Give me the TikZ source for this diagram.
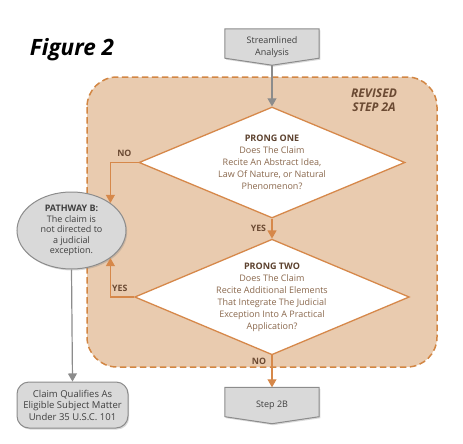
\documentclass[tikz,border=0pt]{standalone}
\usepackage{fontspec}
\setmainfont{Open Sans}
\usetikzlibrary{arrows, calc, shapes.geometric, shadows}
\pgfdeclarelayer{background}
\pgfsetlayers{background,main}
\definecolor{regionfill}{HTML}{E9CBAF}
\definecolor{regionline}{HTML}{D28643}
\definecolor{prongline}{HTML}{D6884A}
\definecolor{headbrown}{HTML}{5C412E}
\definecolor{bodybrown}{HTML}{8A684D}
\definecolor{labelbrown}{HTML}{6B4A33}
\definecolor{boxfill}{HTML}{D9D9D9}
\definecolor{boxline}{HTML}{8C8C8C}
\definecolor{boxtext}{HTML}{3F3F3F}

\begin{document}
\begin{tikzpicture}[x = 1pt, y = -1pt]
\tikzstyle{ProngStyle}=[
shape = diamond,
aspect = 2.375,
minimum width = 266pt,
minimum height = 111pt,
inner sep = 0pt,
draw = prongline,
line width = 1.3pt,
fill = white,
align = center,
text = bodybrown,
font = \fontsize{9}{12}\selectfont]
\tikzstyle{GrayStyle}=[
draw = boxline,
line width = 1pt,
fill = boxfill,
text = boxtext,
align = center,
inner sep = 1pt,
drop shadow = {opacity = 0.3, shadow xshift = 1.2pt, shadow yshift = -1.5pt}]
\tikzstyle{SignStyle}=[
shape = rectangle,
minimum width = 94pt,
minimum height = 36pt,
inner sep = 0pt,
align = center,
text = boxtext,
font = \fontsize{9}{12}\selectfont]
\tikzstyle{LabelStyle}=[
text = labelbrown,
font = \fontsize{8.8}{10}\selectfont\bfseries]
\tikzstyle{OrangeEdge}=[draw = prongline, line width = 1.2pt, -triangle 60]
\tikzstyle{GrayEdge}=[draw = boxline, line width = 1.2pt, -triangle 60]
\useasboundingbox (0,0) rectangle (463,444);
% revised step 2a region
\draw[fill = regionfill, draw = regionline, line width = 1.5pt, dash pattern = on 6.5pt off 3.5pt, rounded corners = 30pt] (87,77) rectangle (437,367);
\node[font = \fontsize{22.5}{24}\selectfont\bfseries\itshape] (fig) at (72,50) {Figure 2};
\node[text = labelbrown, align = center, font = \fontsize{12}{14}\selectfont\bfseries\itshape] (rev) at (374,100) {REVISED\\STEP 2A};
% nodes
\node[SignStyle] (sa) at (272,47) {Streamlined\\Analysis};
\node[SignStyle] (s2b) at (272,405.5) {Step 2B};
\node[ProngStyle] (p1) at (272,162.5) {\textcolor{headbrown}{\bfseries PRONG ONE}\\Does The Claim\\Recite An Abstract Idea,\\Law Of Nature, or Natural\\Phenomenon?};
\node[ProngStyle] (p2) at (272,297) {\textcolor{headbrown}{\bfseries PRONG TWO}\\Does The Claim\\Recite Additional Elements\\That Integrate The Judicial\\Exception Into A Practical\\Application?};
\node[GrayStyle, shape = ellipse, minimum width = 109pt, minimum height = 77pt, font = \fontsize{9}{10.5}\selectfont] (pb) at (71.5,230.5) {{\bfseries PATHWAY B:}\\The claim is\\not directed to\\a judicial\\exception.};
\node[GrayStyle, shape = rectangle, rounded corners = 12pt, minimum width = 111pt, minimum height = 46pt, font = \fontsize{9.5}{11.5}\selectfont] (cq) at (72.5,405) {Claim Qualifies As\\Eligible Subject Matter\\Under 35 U.S.C. 101};
% pointed signs
\begin{pgfonlayer}{background}
\foreach \s in {sa, s2b}
  \draw[GrayStyle] (\s.north west) -- (\s.north east) -- ($(\s.south east)+(0,-7)$) -- (\s.south) -- ($(\s.south west)+(0,-7)$) -- cycle;
\end{pgfonlayer}
% edges
\draw[GrayEdge] (sa.south) -- (p1.north);
\draw[OrangeEdge] (p1.south) -- node[LabelStyle, left = 2pt] {YES} (p2.north);
\draw[OrangeEdge] (p1.west) -| node[LabelStyle, pos = 0.25, above = 1.5pt] {NO} (pb.north east);
\draw[OrangeEdge] (p2.west) -| node[LabelStyle, pos = 0.3, above = 1.5pt] {YES} (pb.south east);
\draw[OrangeEdge] (p2.south) -- node[LabelStyle, pos = 0.2, left = 2pt] {NO} (s2b.north);
\draw[GrayEdge] (pb.south) -- (cq.north);
\end{tikzpicture}
\end{document}
